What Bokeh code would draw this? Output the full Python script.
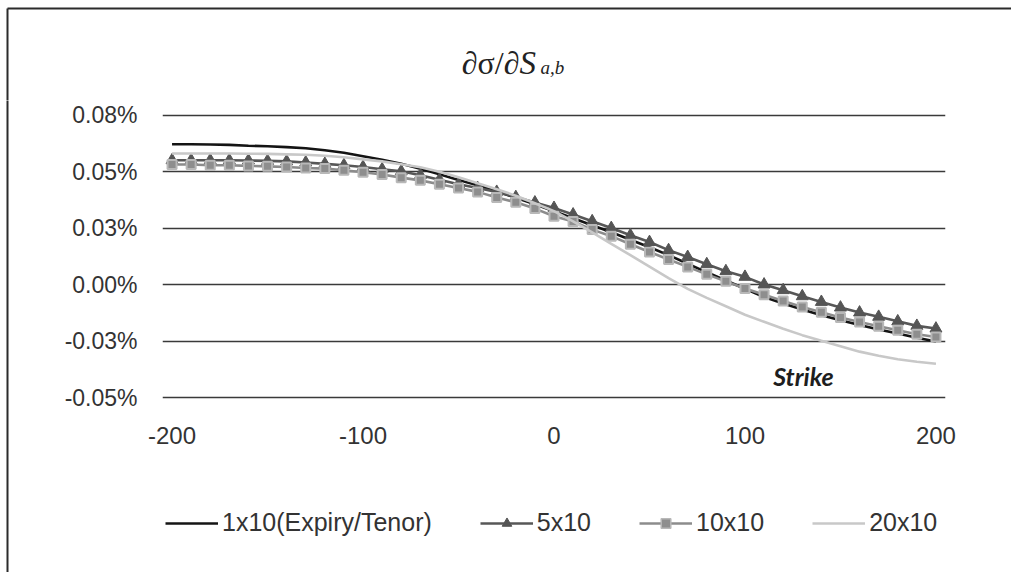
from bokeh.plotting import figure
from bokeh.models import (FixedTicker, Legend, LegendItem, Label, ColumnDataSource, Range1d)
from bokeh.layouts import column, row
from bokeh.core.properties import value
from bokeh.embed import file_html
from bokeh.resources import INLINE

# ---- data (values in %) ----
strike = list(range(-200, 201, 10))

s1x10 = [0.0622, 0.0622, 0.0621, 0.0619, 0.0615, 0.0613, 0.0609, 0.0604, 0.0595, 0.0584,
         0.0569, 0.0553, 0.0535, 0.0513, 0.0489, 0.0464, 0.0440, 0.0414, 0.0385, 0.0356,
         0.0325, 0.0294, 0.0263, 0.0232, 0.0199, 0.0166, 0.0131, 0.0093, 0.0055, 0.0019,
         -0.0018, -0.0054, -0.0083, -0.0110, -0.0135, -0.0157, -0.0178, -0.0198, -0.0216,
         -0.0235, -0.0251]

s5x10 = [0.0551, 0.0551, 0.0551, 0.0551, 0.0550, 0.0548, 0.0546, 0.0541, 0.0535, 0.0529,
         0.0521, 0.0511, 0.0502, 0.0485, 0.0465, 0.0445, 0.0428, 0.0411, 0.0388, 0.0364,
         0.0340, 0.0311, 0.0281, 0.0251, 0.0219, 0.0189, 0.0153, 0.0123, 0.0091, 0.0060,
         0.0035, 0.0001, -0.0024, -0.0051, -0.0076, -0.0101, -0.0123, -0.0142, -0.0162,
         -0.0182, -0.0194]

s10x10 = [0.0532, 0.0532, 0.0529, 0.0529, 0.0526, 0.0524, 0.0521, 0.0517, 0.0514, 0.0507,
          0.0498, 0.0488, 0.0474, 0.0462, 0.0445, 0.0428, 0.0411, 0.0386, 0.0365, 0.0337,
          0.0303, 0.0280, 0.0244, 0.0215, 0.0179, 0.0145, 0.0112, 0.0079, 0.0046, 0.0015,
          -0.0017, -0.0044, -0.0072, -0.0098, -0.0122, -0.0145, -0.0165, -0.0184, -0.0201,
          -0.0219, -0.0231]

s20x10 = [0.0581, 0.0581, 0.0581, 0.0581, 0.0580, 0.0579, 0.0577, 0.0575, 0.0571, 0.0564,
          0.0555, 0.0546, 0.0533, 0.0520, 0.0500, 0.0476, 0.0449, 0.0423, 0.0394, 0.0361,
          0.0326, 0.0280, 0.0232, 0.0181, 0.0131, 0.0080, 0.0029, -0.0018, -0.0058, -0.0095,
          -0.0133, -0.0164, -0.0195, -0.0223, -0.0248, -0.0272, -0.0296, -0.0314, -0.0330,
          -0.0341, -0.0350]

series_names = ["1x10(Expiry/Tenor)", "5x10", "10x10", "20x10"]
y_ticks = [-0.05, -0.025, 0.0, 0.025, 0.05, 0.075]
y_tick_labels = ["-0.05%", "-0.03%", "0.00%", "0.03%", "0.05%", "0.08%"]
x_ticks = [-200, -100, 0, 100, 200]
x_tick_labels = ["-200", "-100", "0", "100", "200"]
title_parts = ["∂σ/∂", "S", "a,b"]
note_text = "Strike"

FONT = "Liberation Sans"
TXT = "#333333"
BORDER = "#2b2b2b"

# series styles
C1, C2, C3, C4 = "#141414", "#575757", "#8c8c8c", "#c8c8c8"
LW = 2.6


def bare(fig):
    fig.outline_line_color = None
    fig.grid.visible = False
    fig.background_fill_color = "white"
    fig.border_fill_color = "white"


# ---------- top strip: title + outer border (top / left edges) ----------
top = figure(width=1011, height=100, output_backend="svg", toolbar_location=None,
             x_range=Range1d(0, 1011), y_range=Range1d(100, 0),
             x_axis_type=None, y_axis_type=None, min_border=0)
bare(top)
top.line(x=[7, 1030], y=[8, 8], line_color=BORDER, line_width=2)
top.line(x=[7, 7], y=[8, 110], line_color=BORDER, line_width=2)
top.text(x=[519], y=[62], text=[title_parts[0]], text_align="right",
         text_baseline="alphabetic", text_font=value("Liberation Serif"),
         text_font_size="32px", text_color="#222222")
top.text(x=[519], y=[62], text=[title_parts[1]], text_align="left",
         text_baseline="alphabetic", text_font=value("Liberation Serif"),
         text_font_style="italic", text_font_size="33px", text_color="#222222")
top.text(x=[540], y=[67], text=[title_parts[2]], text_align="left",
         text_baseline="alphabetic", text_font=value("Liberation Serif"),
         text_font_style="italic", text_font_size="19px", text_color="#222222")

# ---------- left strip: outer border left edge ----------
left = figure(width=10, height=472, output_backend="svg", toolbar_location=None,
              x_range=Range1d(0, 10), y_range=Range1d(472, 0),
              x_axis_type=None, y_axis_type=None, min_border=0)
bare(left)
left.line(x=[7, 7], y=[-10, 480], line_color=BORDER, line_width=2)

# ---------- main chart ----------
p = figure(width=1001, height=372, output_backend="svg", toolbar_location=None,
           x_range=Range1d(-205, 205), y_range=Range1d(-0.053, 0.078),
           min_border_left=152, min_border_right=66, min_border_top=8,
           min_border_bottom=68)
p.outline_line_color = None
p.background_fill_color = "white"
p.border_fill_color = "white"

p.xaxis.ticker = FixedTicker(ticks=x_ticks)
p.xaxis.major_label_overrides = {t: l for t, l in zip(x_ticks, x_tick_labels)}
p.yaxis.ticker = FixedTicker(ticks=y_ticks)
p.yaxis.major_label_overrides = {t: l for t, l in zip(y_ticks, y_tick_labels)}
for ax in (p.xaxis, p.yaxis):
    ax.axis_line_color = None
    ax.major_tick_line_color = None
    ax.minor_tick_line_color = None
    ax.major_tick_out = 0
    ax.major_tick_in = 0
    ax.minor_tick_out = 0
    ax.major_label_text_font = FONT
    ax.major_label_text_color = TXT
p.yaxis.major_label_text_font_size = "23px"
p.xaxis.major_label_text_font_size = "24px"
p.xaxis.major_label_standoff = 22
p.yaxis.major_label_standoff = 25

p.xgrid.grid_line_color = None
p.ygrid.ticker = FixedTicker(ticks=y_ticks)
p.ygrid.grid_line_color = "#3a3a3a"
p.ygrid.grid_line_width = 1.3

src = ColumnDataSource(dict(x=strike, a=s1x10, b=s5x10, c=s10x10, d=s20x10))

p.line("x", "a", source=src, line_color=C1, line_width=LW)
p.line("x", "b", source=src, line_color=C2, line_width=LW)
p.scatter("x", "b", source=src, marker="triangle", size=12,
          fill_color="#555555", line_color="#555555")
p.line("x", "c", source=src, line_color=C3, line_width=LW)
p.scatter("x", "c", source=src, marker="square", size=9,
          fill_color="#8e8e8e", line_color="#b8b8b8", line_width=2)
p.line("x", "d", source=src, line_color=C4, line_width=LW)

p.add_layout(Label(x=130.6, y=-0.0402, text=note_text, text_align="center",
                   text_baseline="middle", text_font="Lato",
                   text_font_style="bold italic", text_font_size="25px",
                   text_color="#1e1e1e"))

# ---------- bottom strip: legend ----------
# (its frame is aligned with the main chart's frame by the column layout)
bot = figure(width=1001, height=100, output_backend="svg", toolbar_location=None,
             x_range=Range1d(0, 1), y_range=Range1d(0, 1),
             x_axis_type=None, y_axis_type=None, min_border=0)
bare(bot)
# proxy renderers for the legend keys: points placed outside the visible range
proxy = ColumnDataSource(dict(x=[5, 6], y=[5, 5]))
l1 = bot.line("x", "y", source=proxy, line_color=C1, line_width=LW)
l2 = bot.line("x", "y", source=proxy, line_color=C2, line_width=LW)
l2m = bot.scatter("x", "y", source=proxy, marker="triangle", size=12,
                  fill_color="#555555", line_color="#555555")
l3 = bot.line("x", "y", source=proxy, line_color=C3, line_width=LW)
l3m = bot.scatter("x", "y", source=proxy, marker="square", size=7,
                  fill_color="#8e8e8e", line_color="#b8b8b8", line_width=1.5)
l4 = bot.line("x", "y", source=proxy, line_color=C4, line_width=LW)

legend = Legend(items=[
    LegendItem(label=series_names[0], renderers=[l1]),
    LegendItem(label=series_names[1], renderers=[l2, l2m]),
    LegendItem(label=series_names[2], renderers=[l3, l3m]),
    LegendItem(label=series_names[3], renderers=[l4]),
], orientation="horizontal", location=(3, 35))
legend.glyph_width = 53
legend.glyph_height = 24
legend.label_height = 24
legend.label_standoff = 4
legend.spacing = 48
legend.padding = 0
legend.margin = 0
legend.border_line_color = None
legend.background_fill_alpha = 0
legend.label_text_font = FONT
legend.label_text_font_size = "25px"
legend.label_text_color = TXT
bot.add_layout(legend)

layout = row(left, column(p, bot))
layout = column(top, layout)
open("out.html", "w").write(file_html(layout, INLINE))
